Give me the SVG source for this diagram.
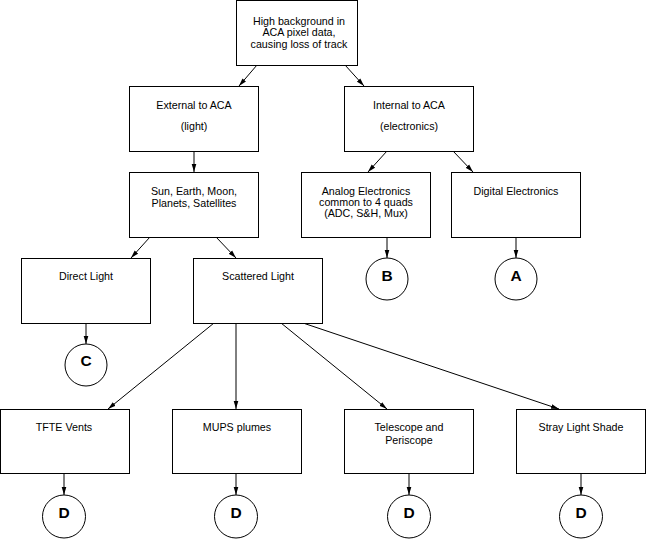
<svg xmlns="http://www.w3.org/2000/svg" width="646" height="539" viewBox="0 0 646 539">
<style>
.box{fill:#fff;stroke:#000;stroke-width:1}
.circ{fill:#fff;stroke:#000;stroke-width:1}
.t{font-family:"Liberation Sans",Arial,sans-serif;font-size:10.7px;text-anchor:middle;fill:#000}
.L{font-family:"Liberation Sans",Arial,sans-serif;font-size:15.5px;font-weight:bold;text-anchor:middle;fill:#000}
.c{stroke:#000;stroke-width:1;fill:none;marker-end:url(#ah)}
</style>
<defs>
<marker id="ah" markerWidth="9" markerHeight="6" refX="8" refY="3" orient="auto" markerUnits="userSpaceOnUse">
<path d="M0,0.7 L8,3 L0,5.3 Z" fill="#000"/>
</marker>
</defs>
<rect width="646" height="539" fill="#fff"/>
<g id="connectors">
<line class="c" x1="257" y1="65" x2="239" y2="86"/>
<line class="c" x1="345" y1="65" x2="364" y2="86"/>
<line class="c" x1="194" y1="151" x2="194" y2="172"/>
<line class="c" x1="387" y1="151" x2="368" y2="172"/>
<line class="c" x1="453" y1="151" x2="473" y2="172"/>
<line class="c" x1="150" y1="237" x2="131" y2="258"/>
<line class="c" x1="216" y1="237" x2="236" y2="258"/>
<line class="c" x1="387" y1="237" x2="387" y2="258"/>
<line class="c" x1="516" y1="237" x2="516" y2="258"/>
<line class="c" x1="86" y1="323" x2="86" y2="344"/>
<line class="c" x1="214" y1="323" x2="108" y2="409"/>
<line class="c" x1="236" y1="323" x2="236" y2="409"/>
<line class="c" x1="281" y1="323" x2="387" y2="409"/>
<line class="c" x1="303" y1="323" x2="559" y2="409"/>
<line class="c" x1="64" y1="473" x2="64" y2="495"/>
<line class="c" x1="236" y1="473" x2="236" y2="495"/>
<line class="c" x1="409" y1="473" x2="409" y2="495"/>
<line class="c" x1="581" y1="473" x2="581" y2="495"/>
</g>
<g id="n_top">
<rect class="box" x="236.5" y="0.5" width="121" height="65"/>
<text class="t" x="299" y="24.5">High background in</text>
<text class="t" x="299" y="36">ACA pixel data,</text>
<text class="t" x="299" y="47.5">causing loss of track</text>
</g>
<g id="n_external">
<rect class="box" x="129.5" y="86.5" width="129" height="65"/>
<text class="t" x="194" y="108.5">External to ACA</text>
<text class="t" x="194" y="129.5">(light)</text>
</g>
<g id="n_internal">
<rect class="box" x="344.5" y="86.5" width="129" height="65"/>
<text class="t" x="409" y="108.5">Internal to ACA</text>
<text class="t" x="409" y="129.5">(electronics)</text>
</g>
<g id="n_sun">
<rect class="box" x="129.5" y="172.5" width="129" height="65"/>
<text class="t" x="194" y="194.5">Sun, Earth, Moon,</text>
<text class="t" x="194" y="206.5">Planets, Satellites</text>
</g>
<g id="n_analog">
<rect class="box" x="301.5" y="172.5" width="129" height="65"/>
<text class="t" x="366" y="194.5">Analog Electronics</text>
<text class="t" x="366" y="205.5">common to 4 quads</text>
<text class="t" x="366" y="216.5">(ADC, S&amp;H, Mux)</text>
</g>
<g id="n_digital">
<rect class="box" x="451.5" y="172.5" width="129" height="65"/>
<text class="t" x="516" y="194.5">Digital Electronics</text>
</g>
<g id="n_direct">
<rect class="box" x="21.5" y="258.5" width="129" height="65"/>
<text class="t" x="86" y="279.5">Direct Light</text>
</g>
<g id="n_scattered">
<rect class="box" x="193.5" y="258.5" width="129" height="65"/>
<text class="t" x="258" y="279.5">Scattered Light</text>
</g>
<g id="n_B">
<circle class="circ" cx="387" cy="279" r="21"/>
<text class="L" x="387" y="281">B</text>
</g>
<g id="n_A">
<circle class="circ" cx="516" cy="279" r="21"/>
<text class="L" x="516" y="281">A</text>
</g>
<g id="n_C">
<circle class="circ" cx="86" cy="365" r="21"/>
<text class="L" x="86" y="366">C</text>
</g>
<g id="n_tfte">
<rect class="box" x="0.5" y="409.5" width="129" height="64"/>
<text class="t" x="64" y="430.5">TFTE Vents</text>
</g>
<g id="n_mups">
<rect class="box" x="172.5" y="409.5" width="129" height="64"/>
<text class="t" x="237" y="430.5">MUPS plumes</text>
</g>
<g id="n_tele">
<rect class="box" x="344.5" y="409.5" width="129" height="64"/>
<text class="t" x="409" y="430.5">Telescope and</text>
<text class="t" x="409" y="443.5">Periscope</text>
</g>
<g id="n_stray">
<rect class="box" x="516.5" y="409.5" width="129" height="64"/>
<text class="t" x="581" y="430.5">Stray Light Shade</text>
</g>
<g id="n_D1">
<circle class="circ" cx="64" cy="516.5" r="21.5"/>
<text class="L" x="64" y="517.5">D</text>
</g>
<g id="n_D2">
<circle class="circ" cx="236" cy="516.5" r="21.5"/>
<text class="L" x="236" y="517.5">D</text>
</g>
<g id="n_D3">
<circle class="circ" cx="409" cy="516.5" r="21.5"/>
<text class="L" x="409" y="517.5">D</text>
</g>
<g id="n_D4">
<circle class="circ" cx="581" cy="516.5" r="21.5"/>
<text class="L" x="581" y="517.5">D</text>
</g>
</svg>
